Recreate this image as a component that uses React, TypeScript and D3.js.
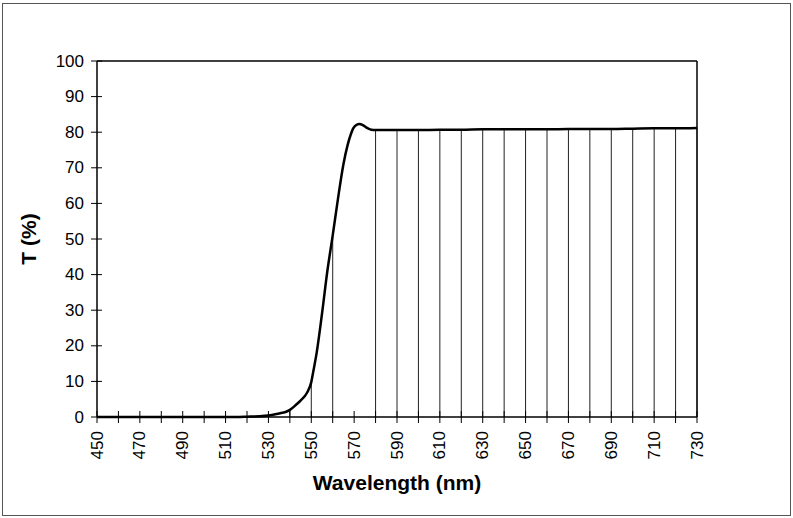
import React from "react";
import * as d3 from "d3";

const wavelengths = [450, 460, 470, 480, 490, 500, 510, 520, 526, 530, 535, 538, 540, 543, 545, 548, 550, 551, 552.5, 555, 557.5, 560, 562.5, 565, 567, 568.5, 569.5, 571, 572.5, 574, 576, 578, 580, 590, 600, 610, 620, 630, 640, 650, 660, 670, 680, 690, 700, 710, 720, 730];
const transmission = [0, 0, 0, 0, 0, 0, 0, 0.1, 0.2, 0.4, 1.0, 1.4, 2.0, 3.5, 4.6, 6.8, 9.8, 13, 18, 29, 41, 51, 61.5, 71, 76.5, 79.5, 81, 82, 82.3, 82, 81.2, 80.7, 80.6, 80.6, 80.6, 80.7, 80.7, 80.8, 80.8, 80.8, 80.8, 80.9, 80.9, 80.9, 81.0, 81.1, 81.1, 81.2];
const xTicks = d3.range(450, 731, 10);
const xTickLabels = d3.range(450, 731, 20);
const yTicks = [0, 10, 20, 30, 40, 50, 60, 70, 80, 90, 100];

const W = 793;
const H = 518;
const left = 97, right = 697, top = 61, bottom = 417;

export default function App() {
  const x = d3.scaleLinear().domain([450, 730]).range([left, right]);
  const y = d3.scaleLinear().domain([0, 100]).range([bottom, top]);
  const pts = wavelengths.map((w, i) => [w, transmission[i]] as [number, number]);
  const line = d3
    .line<[number, number]>()
    .x((d) => x(d[0]))
    .y((d) => y(d[1]))
    .curve(d3.curveMonotoneX);
  const drops = pts.filter((d) => d[0] % 10 === 0 && d[1] > 0);
  const font = "'Liberation Sans', Arial, sans-serif";

  return (
    <svg
      width={W}
      height={H}
      style={{ position: "absolute", left: 0, top: 0, background: "#fff" }}
      fontFamily={font}
    >
      <rect x={2.5} y={3.5} width={788} height={512} fill="none" stroke="#555" strokeWidth={1} />
      {/* plot border */}
      <line x1={left} x2={right} y1={top} y2={top} stroke="#000" strokeWidth={1.5} />
      <line x1={right} x2={right} y1={top} y2={bottom} stroke="#000" strokeWidth={1.5} />
      {/* drop lines */}
      {drops.map((d, i) => (
        <line
          key={"d" + i}
          x1={x(d[0])}
          x2={x(d[0])}
          y1={y(d[1])}
          y2={bottom}
          stroke="#222"
          strokeWidth={1}
        />
      ))}
      {/* axes */}
      <line x1={left} x2={left} y1={top} y2={bottom} stroke="#000" strokeWidth={1.5} />
      <line x1={left} x2={right} y1={bottom} y2={bottom} stroke="#000" strokeWidth={1.5} />
      {yTicks.map((t) => (
        <g key={"y" + t}>
          <line x1={left - 6} x2={left + 5} y1={y(t)} y2={y(t)} stroke="#000" strokeWidth={1} />
          <text
            x={left - 13}
            y={y(t)}
            textAnchor="end"
            dominantBaseline="central"
            fontSize={17}
            fill="#000"
          >
            {t}
          </text>
        </g>
      ))}
      {xTicks.map((t) => (
        <line key={"xt" + t} x1={x(t)} x2={x(t)} y1={bottom - 6} y2={bottom + 6} stroke="#000" strokeWidth={1} />
      ))}
      {xTickLabels.map((t) => (
        <text
          key={"xl" + t}
          transform={`translate(${x(t)},${bottom + 14}) rotate(-90)`}
          textAnchor="end"
          dominantBaseline="central"
          fontSize={17}
          fill="#000"
        >
          {t}
        </text>
      ))}
      {/* curve */}
      <path d={line(pts) || ""} fill="none" stroke="#000" strokeWidth={2.5} strokeLinejoin="round" />
      {/* titles */}
      <text x={397} y={490} textAnchor="middle" fontSize={21} fontWeight="bold" fill="#000">
        Wavelength (nm)
      </text>
      <text
        transform={`translate(36,${(top + bottom) / 2}) rotate(-90)`}
        textAnchor="middle"
        fontSize={21}
        fontWeight="bold"
        fill="#000"
      >
        T (%)
      </text>
    </svg>
  );
}
